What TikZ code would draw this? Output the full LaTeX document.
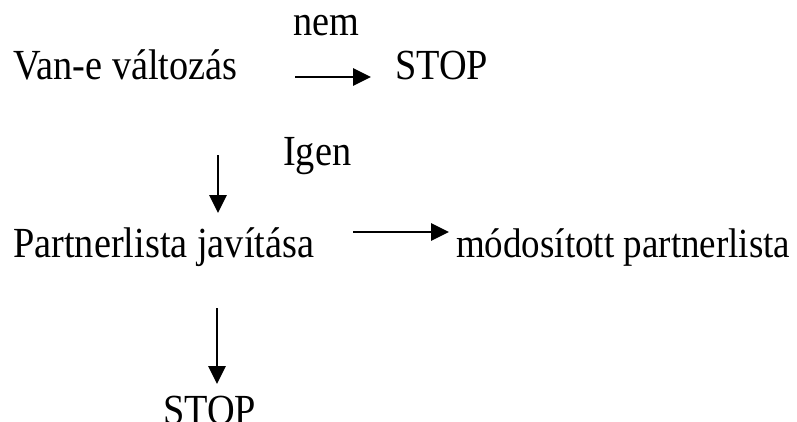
\documentclass[tikz,border=0pt]{standalone}
\usepackage{fontspec}
\setmainfont{Liberation Serif}
\usetikzlibrary{arrows.meta}
\newcommand{\tall}[1]{\scalebox{1}[1.12]{#1}}
\begin{document}
\begin{tikzpicture}[x=1pt,y=-1pt,
  lbl/.style={anchor=base west,inner sep=0pt,font=\fontsize{38.3}{44}\selectfont},
  arr/.style={line width=2.8pt,-{Triangle[length=18pt,width=17pt]}}]
\useasboundingbox (0,0) rectangle (797,421);
\clip (0,0) rectangle (797,421);
\node[lbl] (van) at (13,79) {\tall{Van-e változás}};
\node[lbl] (nem) at (293,35) {\tall{nem}};
\node[lbl] (stop1) at (395,79) {\tall{STOP}};
\node[lbl] (igen) at (283,165) {\tall{Igen}};
\node[lbl] (part) at (13,257) {\tall{Partnerlista javítása}};
\node[lbl,font=\fontsize{37}{44}\selectfont] (mod) at (456,257) {\tall{módosított partnerlista}};
\node[lbl] (stop2) at (163,424) {\tall{STOP}};
\coordinate (a1s) at (295,77);
\coordinate (a1e) at (371,77);
\coordinate (a2s) at (218,155);
\coordinate (a2e) at (218,213);
\coordinate (a3s) at (353,232);
\coordinate (a3e) at (449,232);
\coordinate (a4s) at (217,308);
\coordinate (a4e) at (217,384);
\draw[arr] (a1s) -- (a1e);
\draw[arr] (a2s) -- (a2e);
\draw[arr] (a3s) -- (a3e);
\draw[arr] (a4s) -- (a4e);
\end{tikzpicture}
\end{document}
